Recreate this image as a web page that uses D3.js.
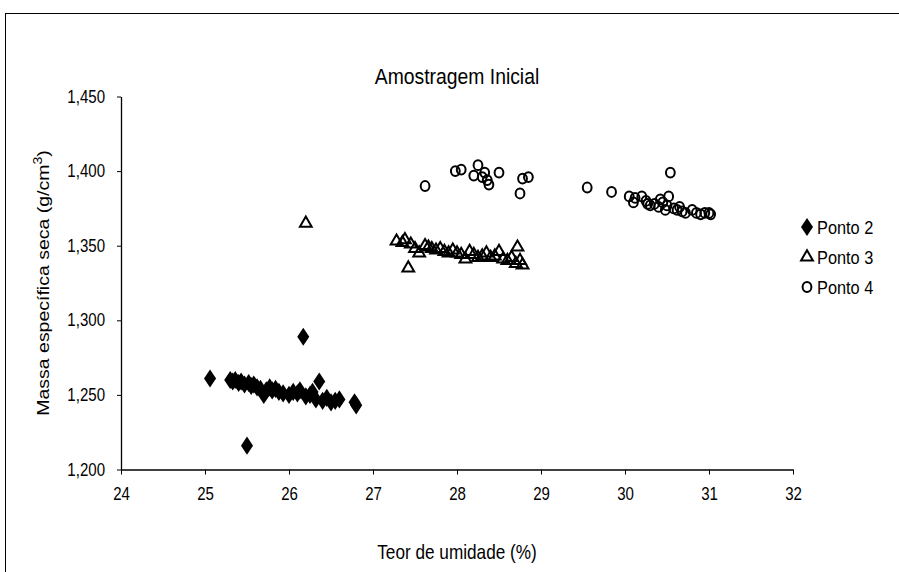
<!DOCTYPE html>
<html>
<head>
<meta charset="utf-8">
<script src="https://cdn.jsdelivr.net/npm/d3@7"></script>
<style>
  html, body { margin: 0; padding: 0; background: #fff; }
  svg { display: block; }
  text { font-family: "Liberation Sans", Arial, sans-serif; fill: #000; }
</style>
</head>
<body>
<svg id="chart" width="899" height="572"></svg>
<script>
// Moisture content (%) and dry density (g/cm3) per sampling point
const ponto2X = [25.06, 25.30, 25.33, 25.36, 25.40, 25.43, 25.47, 25.50, 25.52, 25.55, 25.58, 25.62, 25.66, 25.70, 25.73, 25.77, 25.80, 25.84, 25.88, 25.93, 26.00, 26.05, 26.10, 26.13, 26.17, 26.20, 26.25, 26.28, 26.32, 26.36, 26.40, 26.45, 26.50, 26.55, 26.60, 26.78, 26.80];
const ponto2Y = [1.261, 1.260, 1.259, 1.260, 1.258, 1.259, 1.257, 1.216, 1.258, 1.256, 1.257, 1.255, 1.254, 1.250, 1.253, 1.255, 1.253, 1.254, 1.252, 1.251, 1.250, 1.252, 1.251, 1.253, 1.289, 1.249, 1.250, 1.252, 1.247, 1.259, 1.246, 1.248, 1.245, 1.246, 1.247, 1.245, 1.243];

const ponto3X = [26.20, 27.28, 27.35, 27.38, 27.42, 27.45, 27.50, 27.55, 27.62, 27.66, 27.70, 27.75, 27.80, 27.85, 27.90, 27.95, 28.00, 28.05, 28.10, 28.15, 28.20, 28.25, 28.30, 28.35, 28.40, 28.45, 28.50, 28.55, 28.60, 28.65, 28.70, 28.72, 28.75, 28.78];
const ponto3Y = [1.365, 1.353, 1.352, 1.354, 1.335, 1.351, 1.348, 1.345, 1.350, 1.349, 1.348, 1.347, 1.348, 1.346, 1.345, 1.347, 1.345, 1.344, 1.341, 1.346, 1.344, 1.342, 1.343, 1.345, 1.342, 1.343, 1.346, 1.341, 1.340, 1.342, 1.338, 1.349, 1.340, 1.337];

const ponto4X = [27.62, 27.98, 28.05, 28.20, 28.25, 28.30, 28.33, 28.36, 28.38, 28.50, 28.75, 28.78, 28.85, 29.55, 29.84, 30.05, 30.10, 30.12, 30.20, 30.25, 30.27, 30.30, 30.35, 30.40, 30.42, 30.45, 30.48, 30.50, 30.52, 30.54, 30.58, 30.62, 30.65, 30.68, 30.72, 30.80, 30.85, 30.90, 30.95, 31.00, 31.02];
const ponto4Y = [1.390, 1.400, 1.401, 1.397, 1.404, 1.396, 1.399, 1.394, 1.391, 1.399, 1.385, 1.395, 1.396, 1.389, 1.386, 1.383, 1.379, 1.382, 1.383, 1.380, 1.378, 1.377, 1.378, 1.376, 1.381, 1.379, 1.374, 1.377, 1.383, 1.399, 1.375, 1.374, 1.376, 1.373, 1.372, 1.374, 1.372, 1.371, 1.372, 1.372, 1.371];

const xTicks = [24, 25, 26, 27, 28, 29, 30, 31, 32];
const yTicks = [1.200, 1.250, 1.300, 1.350, 1.400, 1.450];
const seriesNames = ["Ponto 2", "Ponto 3", "Ponto 4"];

// horizontal squeeze applied to all lettering (narrow sans look)
const SQ = 0.86;

const svg = d3.select("#chart");

// outer chart frame
svg.append("rect")
  .attr("x", 5.5).attr("y", 13.5)
  .attr("width", 900).attr("height", 600)
  .attr("fill", "none").attr("stroke", "#000").attr("stroke-width", 1);

const plot = { left: 121, right: 793, top: 96.5, bottom: 469.5 };

const x = d3.scaleLinear().domain([24, 32]).range([plot.left, plot.right]);
const y = d3.scaleLinear().domain([1.2, 1.45]).range([plot.bottom, plot.top]);

const fmtY = v => d3.format(".3f")(v).replace(".", ",");

// x axis
const xAxis = svg.append("g")
  .attr("transform", `translate(0,${plot.bottom})`)
  .call(d3.axisBottom(x).tickValues(xTicks).tickSize(5).tickSizeOuter(0).tickPadding(13).tickFormat(d3.format("d")));
// y axis
const yAxis = svg.append("g")
  .attr("transform", `translate(${plot.left},0)`)
  .call(d3.axisLeft(y).tickValues(yTicks).tickSize(4).tickSizeOuter(0).tickPadding(12).tickFormat(fmtY));

[xAxis, yAxis].forEach(g => {
  g.select(".domain").attr("stroke", "#000").attr("stroke-width", 1.3);
  g.selectAll(".tick line").attr("stroke", "#000").attr("stroke-width", 1);
  g.selectAll(".tick text")
    .attr("font-size", 17.5).attr("fill", "#000");
});
// squeeze tick lettering about its anchor point
xAxis.selectAll(".tick text").attr("transform", `scale(${SQ},1)`);
yAxis.selectAll(".tick text").each(function () {
  const t = d3.select(this);
  const tx = +t.attr("x");
  t.attr("x", tx / SQ).attr("transform", `scale(${SQ},1)`);
});

// markers
const diamond = d3.symbol().type(d3.symbolDiamond).size(95);
const triangle = d3.symbol().type(d3.symbolTriangle).size(60);

function drawDiamonds(g, cx, cy) {
  g.append("path").attr("d", diamond())
    .attr("transform", `translate(${cx},${cy}) scale(1.15,1)`)
    .attr("fill", "#000");
}
function drawTriangle(g, cx, cy) {
  g.append("path").attr("d", triangle())
    .attr("transform", `translate(${cx},${cy})`)
    .attr("fill", "none").attr("stroke", "#000").attr("stroke-width", 2);
}
function drawCircle(g, cx, cy) {
  g.append("ellipse").attr("cx", cx).attr("cy", cy).attr("rx", 4.4).attr("ry", 4.9)
    .attr("fill", "none").attr("stroke", "#000").attr("stroke-width", 2);
}

const marks = svg.append("g");
ponto2X.forEach((v, i) => drawDiamonds(marks, x(v), y(ponto2Y[i])));
ponto3X.forEach((v, i) => drawTriangle(marks, x(v), y(ponto3Y[i])));
ponto4X.forEach((v, i) => drawCircle(marks, x(v), y(ponto4Y[i])));

// title
svg.append("text")
  .attr("transform", `translate(${(plot.left + plot.right) / 2},84) scale(${SQ},1)`)
  .attr("text-anchor", "middle").attr("font-size", 22.5)
  .text("Amostragem Inicial");

// x axis title
svg.append("text")
  .attr("transform", `translate(${(plot.left + plot.right) / 2},559) scale(${SQ},1)`)
  .attr("text-anchor", "middle").attr("font-size", 20)
  .text("Teor de umidade (%)");

// y axis title with superscript (squeezed across its glyph height, since it runs vertically)
const yt = svg.append("text")
  .attr("transform", `translate(49,${(plot.top + plot.bottom) / 2}) rotate(-90) scale(1,${SQ})`)
  .attr("text-anchor", "middle").attr("font-size", 19.5);
yt.append("tspan").text("Massa específica seca (g/cm");
yt.append("tspan").attr("dy", -8).attr("font-size", 14).text("3");
yt.append("tspan").attr("dy", 8).text(")");

// legend
const legend = svg.append("g");
const legendY = [227, 257, 287];
const drawers = [drawDiamonds, drawTriangle, drawCircle];
seriesNames.forEach((name, i) => {
  drawers[i](legend, 807, legendY[i]);
  legend.append("text")
    .attr("transform", `translate(817,${legendY[i] + 6.5}) scale(${SQ},1)`)
    .attr("font-size", 19).text(name);
});
</script>
</body>
</html>
